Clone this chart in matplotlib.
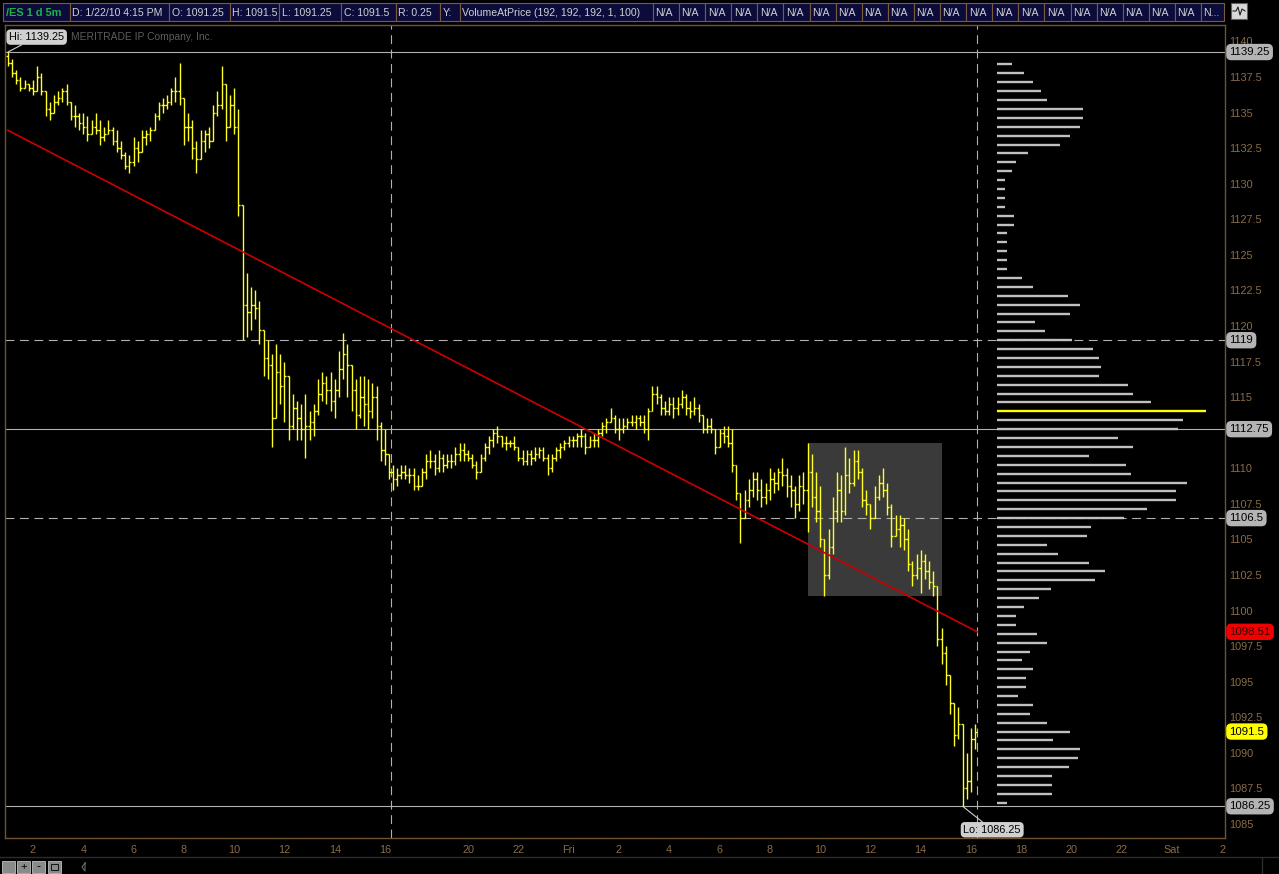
import numpy as np
import matplotlib
matplotlib.use('Agg')
import matplotlib.pyplot as plt
import matplotlib.transforms as mtrans
from matplotlib.collections import LineCollection
from matplotlib.patches import Rectangle

plt.rcParams['font.family'] = ['Liberation Sans', 'DejaVu Sans']

# ---- /ES 10-minute bars, Thursday 01:00 - 16:15 ----
day1_high = [1139.25, 1138.75, 1138.0, 1137.5, 1137.25, 1137.0, 1137.25, 1138.25, 1137.75, 1136.5,
             1135.75, 1136.25, 1136.5, 1136.75, 1137.0, 1135.75, 1135.5, 1135.0, 1135.0, 1134.75,
             1134.5, 1135.0, 1134.5, 1134.0, 1134.5, 1134.0, 1133.75, 1133.0, 1132.25, 1132.0,
             1133.25, 1133.0, 1133.75, 1133.75, 1134.0, 1135.0, 1135.75, 1136.0, 1136.25, 1136.75,
             1137.5, 1138.5, 1136.0, 1135.0, 1134.5, 1133.0, 1133.75, 1133.75, 1134.0, 1135.5,
             1136.5, 1138.25, 1137.0, 1136.25, 1136.75, 1135.25, 1128.5, 1123.75, 1122.75, 1122.5,
             1121.75, 1119.75, 1119.0, 1118.0, 1118.75, 1118.0, 1117.5, 1116.5, 1115.25, 1114.75,
             1114.5, 1115.25, 1114.0, 1114.5, 1116.25, 1116.75, 1116.5, 1116.75, 1116.25, 1118.25,
             1119.5, 1118.75, 1117.25, 1116.25, 1116.5, 1116.5, 1116.25, 1116.0, 1115.75, 1113.25,
             1112.75, 1111.0]
day1_low = [1138.25, 1137.5, 1137.0, 1136.5, 1136.75, 1136.5, 1136.25, 1136.5, 1136.25, 1134.75,
            1134.5, 1135.0, 1135.5, 1135.75, 1135.5, 1134.5, 1134.0, 1133.75, 1133.5, 1133.0,
            1133.5, 1133.5, 1132.75, 1133.0, 1133.5, 1132.75, 1132.25, 1131.75, 1131.0, 1130.75,
            1131.25, 1131.5, 1132.25, 1132.75, 1133.0, 1133.75, 1134.5, 1135.0, 1135.25, 1135.5,
            1135.75, 1135.5, 1132.75, 1133.0, 1131.75, 1130.75, 1131.75, 1132.25, 1132.5, 1133.0,
            1134.75, 1135.25, 1133.0, 1134.0, 1133.5, 1127.75, 1119.0, 1119.25, 1119.75, 1120.5,
            1118.75, 1116.5, 1116.25, 1111.5, 1113.5, 1114.5, 1113.25, 1112.0, 1112.75, 1112.0,
            1112.0, 1110.75, 1112.0, 1112.25, 1113.75, 1114.75, 1114.5, 1114.0, 1113.5, 1115.0,
            1116.25, 1115.0, 1114.0, 1112.75, 1113.5, 1113.0, 1112.75, 1113.5, 1112.0, 1110.5,
            1110.25, 1109.25]
day1_close = [1138.5, 1137.75, 1137.25, 1136.75, 1137.0, 1136.75, 1136.5, 1137.5, 1136.5, 1135.25,
              1135.0, 1135.75, 1136.0, 1136.5, 1135.75, 1134.75, 1134.75, 1134.25, 1134.0, 1133.5,
              1134.0, 1133.75, 1133.25, 1133.5, 1133.75, 1133.0, 1132.5, 1132.0, 1131.25, 1131.5,
              1132.5, 1132.25, 1133.25, 1133.5, 1133.75, 1134.75, 1135.5, 1135.5, 1135.75, 1136.5,
              1136.5, 1136.0, 1134.0, 1134.0, 1132.5, 1131.75, 1133.0, 1133.5, 1133.0, 1135.0,
              1135.5, 1137.0, 1134.0, 1135.5, 1134.0, 1128.5, 1121.5, 1121.0, 1121.5, 1121.25,
              1119.75, 1117.75, 1117.25, 1113.5, 1116.75, 1115.75, 1116.5, 1113.0, 1114.25, 1113.5,
              1112.75, 1113.0, 1113.25, 1114.0, 1115.25, 1116.0, 1115.5, 1114.75, 1115.5, 1117.0,
              1118.0, 1117.25, 1115.5, 1113.75, 1115.0, 1114.5, 1114.0, 1115.0, 1113.0, 1111.25,
              1111.0, 1109.75]

# ---- Thursday 17:00 - Friday 16:15 ----
day2_high = [1110.25, 1110.0, 1110.25, 1110.25, 1110.0, 1110.0, 1109.5, 1110.0, 1111.0, 1111.25,
             1111.0, 1111.25, 1111.0, 1111.0, 1111.0, 1111.5, 1111.75, 1111.75, 1111.25, 1111.0,
             1110.5, 1111.0, 1111.75, 1112.25, 1112.75, 1113.0, 1112.25, 1112.25, 1112.0, 1112.25,
             1111.5, 1111.25, 1111.25, 1111.25, 1111.5, 1111.5, 1111.5, 1111.0, 1111.0, 1111.5,
             1111.75, 1112.0, 1112.25, 1112.25, 1112.5, 1112.75, 1112.5, 1112.25, 1112.5, 1112.75,
             1113.25, 1113.5, 1114.25, 1113.75, 1113.5, 1113.5, 1113.5, 1113.75, 1113.75, 1113.75,
             1113.75, 1114.25, 1115.75, 1115.75, 1115.25, 1114.75, 1115.0, 1115.0, 1115.0, 1115.5,
             1115.25, 1114.75, 1115.0, 1114.5, 1113.75, 1113.5, 1113.5, 1112.75, 1112.75, 1113.0,
             1113.0, 1112.75, 1110.25, 1108.25, 1108.5, 1109.25, 1109.75, 1109.75, 1109.25, 1109.0,
             1110.0, 1109.75, 1110.0, 1110.75, 1110.0, 1109.5, 1108.75, 1109.5, 1109.75, 1111.75,
             1111.0, 1109.75, 1108.75, 1105.0, 1105.75, 1108.0, 1109.75, 1109.5, 1111.5, 1110.75,
             1111.25, 1111.25, 1110.0, 1108.5, 1107.5, 1108.75, 1109.5, 1110.0, 1109.0, 1107.5,
             1106.75, 1106.75, 1106.5, 1105.75, 1103.5, 1104.0, 1104.25, 1104.0, 1103.5, 1102.75,
             1101.75, 1098.75, 1097.5, 1095.5, 1093.5, 1093.25, 1092.0, 1090.0, 1091.75, 1092.0]
day2_low = [1108.5, 1108.75, 1109.25, 1109.25, 1109.0, 1108.5, 1108.5, 1108.75, 1109.25, 1110.0,
            1109.5, 1109.75, 1109.75, 1110.0, 1110.0, 1110.25, 1110.5, 1110.5, 1110.5, 1110.0,
            1109.25, 1109.75, 1110.5, 1111.0, 1111.5, 1111.75, 1111.5, 1111.25, 1111.5, 1111.25,
            1110.5, 1110.25, 1110.25, 1110.25, 1110.5, 1110.75, 1110.5, 1109.5, 1109.75, 1110.5,
            1110.75, 1111.25, 1111.5, 1111.5, 1111.5, 1111.5, 1111.0, 1111.5, 1111.5, 1111.5,
            1112.25, 1112.5, 1113.25, 1112.5, 1112.0, 1112.5, 1112.75, 1113.0, 1112.75, 1113.0,
            1112.5, 1112.0, 1114.0, 1114.5, 1113.75, 1113.75, 1113.75, 1113.5, 1113.75, 1114.25,
            1113.75, 1113.5, 1113.75, 1113.25, 1112.5, 1112.5, 1112.5, 1111.0, 1111.5, 1111.75,
            1111.5, 1109.75, 1107.75, 1104.75, 1106.5, 1107.25, 1108.0, 1107.75, 1107.25, 1107.5,
            1107.75, 1108.25, 1108.5, 1108.75, 1108.0, 1107.25, 1106.5, 1107.0, 1107.5, 1105.5,
            1107.25, 1106.25, 1104.5, 1101.0, 1102.25, 1104.0, 1106.25, 1106.25, 1106.75, 1108.25,
            1108.75, 1109.25, 1107.25, 1106.75, 1105.75, 1106.5, 1107.75, 1108.0, 1106.75, 1104.5,
            1105.25, 1104.5, 1104.25, 1102.75, 1101.75, 1102.25, 1101.25, 1102.25, 1101.5, 1101.0,
            1097.5, 1096.25, 1094.75, 1092.75, 1090.5, 1091.0, 1086.25, 1086.75, 1087.25, 1090.25]
day2_close = [1109.25, 1109.5, 1109.75, 1109.5, 1109.5, 1108.75, 1108.75, 1109.75, 1110.5, 1110.5,
              1110.0, 1110.75, 1110.25, 1110.5, 1110.5, 1111.0, 1111.25, 1111.0, 1110.75, 1110.25,
              1109.75, 1110.75, 1111.5, 1112.0, 1112.5, 1112.25, 1111.75, 1111.75, 1111.75, 1111.5,
              1110.75, 1110.5, 1111.0, 1110.75, 1111.0, 1111.25, 1110.75, 1110.0, 1110.75, 1111.25,
              1111.5, 1111.75, 1112.0, 1112.0, 1112.25, 1112.25, 1111.5, 1112.0, 1112.0, 1112.5,
              1113.0, 1113.25, 1113.5, 1112.75, 1112.75, 1113.0, 1113.25, 1113.25, 1113.5, 1113.25,
              1112.75, 1114.0, 1115.25, 1115.0, 1114.25, 1114.0, 1114.5, 1114.25, 1114.5, 1115.0,
              1114.25, 1114.0, 1114.25, 1113.75, 1112.75, 1113.0, 1112.75, 1111.5, 1112.5, 1112.25,
              1111.75, 1110.25, 1108.25, 1106.5, 1107.75, 1108.5, 1109.25, 1108.5, 1108.0, 1108.5,
              1109.25, 1109.0, 1109.75, 1109.5, 1108.75, 1108.5, 1107.5, 1108.75, 1108.5, 1109.75,
              1108.0, 1107.0, 1105.0, 1102.5, 1104.5, 1107.0, 1108.5, 1107.0, 1109.5, 1109.0,
              1110.5, 1109.75, 1107.75, 1107.5, 1106.5, 1108.0, 1109.0, 1108.5, 1107.25, 1105.25,
              1105.75, 1106.0, 1105.0, 1103.25, 1102.5, 1103.0, 1103.5, 1102.75, 1102.0, 1101.75,
              1098.0, 1097.0, 1095.5, 1093.5, 1091.25, 1092.0, 1087.5, 1088.0, 1091.0, 1091.5]
first_open = 1139.0

# volume at price, top (1138.375) to bottom (1086.5), 0.625 per row
vap_top = 1138.375
vap_step = 0.625
vap_volume = [15, 27, 36, 44, 50, 86, 86, 83, 73, 63, 31, 19, 15, 8, 8, 8, 8, 17, 17, 10,
              10, 10, 10, 10, 25, 36, 71, 83, 73, 38, 48, 75, 96, 102, 104, 102, 131, 136, 154, 209,
              186, 181, 121, 136, 92, 129, 134, 190, 179, 179, 150, 127, 94, 90, 50, 61, 92, 108, 98, 54,
              42, 27, 19, 19, 40, 50, 33, 25, 36, 29, 29, 21, 36, 33, 50, 73, 56, 83, 81, 72,
              55, 55, 55, 10]

trend_start, trend_end = 1133.75, 1098.51
box_low, box_high = 1101.0, 1111.75
box_from, box_to = 9.5, 14.85        # Friday clock hours
solid_levels = [1139.25, 1112.75, 1086.25]
dashed_levels = [1119.0, 1106.5]
gray_tags = ['1139.25', '1119', '1112.75', '1106.5', '1086.25']
red_tag = '1098.51'
last_tag = '1091.5'

header_cells = ['/ES 1 d 5m', 'D: 1/22/10 4:15 PM', 'O: 1091.25', 'H: 1091.5', 'L: 1091.25',
                'C: 1091.5', 'R: 0.25', 'Y:', 'VolumeAtPrice (192, 192, 192, 1, 100)']
header_edges = [3, 70, 169, 230, 279, 341, 396, 440, 460, 653]

# ---- time axis (hours, overnight break squeezed) ----
GAP = 0.7
def fri(h):
    return h + 24 - GAP

t1 = 1.0 + np.arange(len(day1_high)) / 6.0
t2 = 17.0 - GAP + np.arange(len(day2_high)) / 6.0
t = np.concatenate([t1, t2])
high = np.array(day1_high + day2_high)
low = np.array(day1_low + day2_low)
close = np.array(day1_close + day2_close)
opn = np.concatenate([[first_open], close[:-1]])

tan = '#8a6c48'
yellow = '#ffff22'

fig = plt.figure(figsize=(12.79, 8.74), dpi=100, facecolor='black')
ax = fig.add_axes([5 / 1279, 36 / 874, 1220 / 1279, 813 / 874], facecolor='black')
ax.set_xlim(0.887, 49.4)
ax.set_ylim(1084.02, 1141.15)

# shaded box on Friday
ax.add_patch(Rectangle((fri(box_from), box_low), fri(box_to) - fri(box_from), box_high - box_low,
                       fc='#3a3a3a', ec='none', zorder=1))

for lv in solid_levels:
    ax.axhline(lv, color='#b0b0b0', lw=0.8, zorder=2)
for lv in dashed_levels:
    ax.axhline(lv, color='#b0b0b0', lw=0.8, ls=(0, (8, 5)), zorder=2)
for vx in [16.25, fri(16.25)]:
    ax.axvline(vx, color='#b0b0b0', lw=0.8, ls=(0, (8, 5)), zorder=2)

# OHLC bars
w = 0.07
segs = []
for ti, o, h, l, c in zip(t, opn, high, low, close):
    segs.append([(ti, l), (ti, h)])
    segs.append([(ti - w, o), (ti, o)])
    segs.append([(ti, c), (ti + w, c)])
ax.add_collection(LineCollection(segs, colors=yellow, linewidths=1.0, zorder=4))

# trend line
ax.plot([t[0], fri(16.25)], [trend_start, trend_end], color='#cc0000', lw=1.2, zorder=5)

# axis style
for sp in ax.spines.values():
    sp.set_color('#6e5232')
    sp.set_linewidth(1.0)
ax.yaxis.tick_right()
yt = np.arange(1085, 1140.1, 2.5)
ax.set_yticks(yt)
# the 1112.5 label sits under the 1112.75 tag on the original
ax.set_yticklabels(['' if v == 1112.5 else '%g' % v for v in yt])
ax.tick_params(axis='y', length=0, pad=3, labelcolor=tan, labelsize=7.8)

xt = [2, 4, 6, 8, 10, 12, 14, 16, 20 - GAP, 22 - GAP] + [fri(h) for h in range(0, 27, 2)]
xl = ['2', '4', '6', '8', '10', '12', '14', '16', '20', '22', 'Fri', '2', '4', '6', '8', '10',
      '12', '14', '16', '18', '20', '22', 'Sat', '2']
ax.set_xticks(xt)
ax.set_xticklabels(xl)
ax.tick_params(axis='x', length=0, pad=5, labelcolor=tan, labelsize=7.8)

# price tags on the right scale
tr = mtrans.blended_transform_factory(ax.transAxes, ax.transData)
tag_style = dict(boxstyle='round,pad=0.28,rounding_size=0.45', ec='none')
for s in gray_tags:
    ax.text(1.0036, float(s), s, transform=tr, ha='left', va='center', fontsize=8.2,
            color='black', bbox=dict(fc='#b4b4b4', **tag_style), clip_on=False, zorder=10)
ax.text(1.0036, float(red_tag), red_tag, transform=tr, ha='left', va='center', fontsize=8.2,
        color='#300000', bbox=dict(fc='#f00000', **tag_style), clip_on=False, zorder=10)
ax.text(1.0036, float(last_tag), last_tag, transform=tr, ha='left', va='center', fontsize=8.2,
        color='black', bbox=dict(fc='#ffff00', **tag_style), clip_on=False, zorder=10)

# watermark (partly hidden by the Hi callout) + hi / lo callouts
ax.text(3.5, 1140.3, 'MERITRADE IP Company, Inc.', color='#5c5c5c', fontsize=7.4,
        va='center', zorder=3)
hi_i = int(np.argmax(high))
lo_i = int(np.argmin(low))
ax.annotate('Hi: %g' % high[hi_i], xy=(t[hi_i], high[hi_i]), xytext=(1.05, 1140.3),
            fontsize=7.8, color='black', va='center', ha='left',
            bbox=dict(boxstyle='round,pad=0.25,rounding_size=0.4', fc='#d0d0d0', ec='none'),
            arrowprops=dict(arrowstyle='-', color='#d0d0d0', lw=0.8, shrinkA=0, shrinkB=0),
            zorder=11)
ax.annotate('Lo: %g' % low[lo_i], xy=(t[lo_i], low[lo_i]), xytext=(39.0, 1084.6),
            fontsize=7.8, color='black', va='center', ha='left',
            bbox=dict(boxstyle='round,pad=0.25,rounding_size=0.4', fc='#d0d0d0', ec='none'),
            arrowprops=dict(arrowstyle='-', color='#d0d0d0', lw=0.8, shrinkA=0, shrinkB=0),
            zorder=11)

# volume at price profile
ax2 = ax.twiny()
ax2.set_xlim(-992, 228)
ax2.set_ylim(1084.02, 1141.15)
vap_prices = vap_top - vap_step * np.arange(len(vap_volume))
vcols = ['#c0c0c0'] * len(vap_volume)
vcols[int(np.argmax(vap_volume))] = '#ffff00'
ax2.hlines(vap_prices, 0, vap_volume, colors=vcols, lw=1.7, zorder=3)
ax2.axis('off')

# header bar and toolbar, drawn in pixel space
hax = fig.add_axes([0, 0, 1, 1])
hax.set_xlim(0, 1279)
hax.set_ylim(874, 0)
hax.axis('off')
na_edges = np.linspace(653, 1201, 22)
cells = list(zip(header_edges[:-1], header_edges[1:], header_cells))
cells += [(a, b, 'N/A') for a, b in zip(na_edges[:-1], na_edges[1:])]
cells.append((1201, 1224, 'N...'))
for i, (a, b, s) in enumerate(cells):
    hax.add_patch(Rectangle((a, 3), b - a, 18, fc='#0c0c3c', ec='#7a5c3a', lw=0.8))
    if i == 0:
        hax.text(a + 3, 12.5, s, color='#22b04a', fontsize=7.9, fontweight='bold', va='center')
    else:
        hax.text(a + 2.5, 12.5, s, color='#d0d0d0', fontsize=7.55, va='center')
hax.add_patch(Rectangle((1231, 3), 16, 16, fc='#d8d8d8', ec='#7a5c3a', lw=0.8))
hax.plot([1233, 1236, 1238, 1240, 1242, 1245], [11, 11, 7, 15, 9, 11], color='#202020', lw=0.8)

hax.plot([0, 1279], [857, 857], color='#2c2c2c', lw=1)
for bx in [2, 17, 32, 48]:
    hax.add_patch(Rectangle((bx, 861), 13, 12, fc='#8a8a8a', ec='#c0c0c0', lw=0.6))
hax.text(23.5, 867, '+', color='black', fontsize=8, ha='center', va='center')
hax.text(38.5, 867, '-', color='black', fontsize=9, ha='center', va='center')
hax.add_patch(Rectangle((51, 864), 7, 6, fc='none', ec='black', lw=0.6))
hax.plot([85, 82, 85, 85], [863, 867, 871, 863], color='#6a6a6a', lw=0.8)
hax.plot([1262, 1262], [858, 874], color='#2c2c2c', lw=1)

fig.savefig('out.png', dpi=100, facecolor='black')
